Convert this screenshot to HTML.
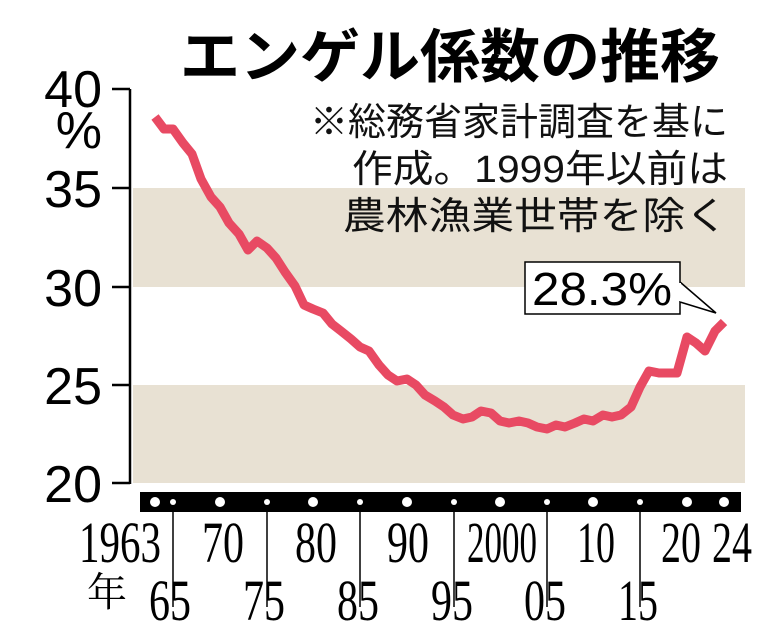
<!DOCTYPE html>
<html><head><meta charset="utf-8"><style>
html,body{margin:0;padding:0;background:#fff;}
svg{display:block;}
.jp{font-family:"Liberation Sans","Noto Sans CJK JP",sans-serif;}
.sf{font-family:"Liberation Serif","Noto Serif CJK SC",serif;}
</style></head><body>
<svg width="769" height="630" viewBox="0 0 769 630" xmlns="http://www.w3.org/2000/svg">
<rect x="133" y="188" width="612" height="99" fill="#e8e1d3"/>
<rect x="133" y="385" width="612" height="98" fill="#e8e1d3"/>
<g stroke="#000" stroke-width="2.5" fill="none">
<line x1="130" y1="89" x2="130" y2="484"/>
<line x1="112" y1="89" x2="130" y2="89"/>
<line x1="112" y1="188" x2="130" y2="188"/>
<line x1="112" y1="287" x2="130" y2="287"/>
<line x1="112" y1="385" x2="130" y2="385"/>
<line x1="112" y1="483" x2="130" y2="483"/>
</g>
<g class="jp" font-size="52" fill="#000" text-anchor="end">
<text x="102" y="107">40</text>
<text x="102" y="148">%</text>
<text x="102" y="207">35</text>
<text x="102" y="306">30</text>
<text x="102" y="404">25</text>
<text x="102" y="502">20</text>
</g>
<text class="jp" x="180" y="77" font-size="58" font-weight="bold" textLength="540" lengthAdjust="spacingAndGlyphs">エンゲル係数の推移</text>
<g class="jp" font-size="38" fill="#111">
<text x="310" y="135" textLength="418" lengthAdjust="spacingAndGlyphs">※総務省家計調査を基に</text>
<text x="352" y="182" textLength="376" lengthAdjust="spacingAndGlyphs">作成。1999年以前は</text>
<text x="343" y="229" textLength="385" lengthAdjust="spacingAndGlyphs">農林漁業世帯を除く</text>
</g>
<polyline fill="none" stroke="#e84a63" stroke-width="9" stroke-linejoin="round" points="155,117 164,129 173,129 183,143 192,154 201,179 211,197 220,207 229,223 239,234 248,250 257,241 267,248 276,258 285,272 295,286 304,305 313,309 323,313 332,324 341,331 351,339 360,347 369,351 379,365 388,375 397,381 407,379 416,385 425,395 435,401 444,407 453,415 463,419 472,417 481,411 491,413 500,421 509,423 519,421 528,423 537,427 547,429 556,425 565,427 575,423 584,419 593,421 603,415 612,417 621,415 631,407 640,387 649,371 659,373 668,373 677,373 687,337 696,343 705,351 715,331 724,322"/>
<rect x="525" y="262" width="155" height="52" fill="#fff" stroke="#000" stroke-width="1.5"/>
<polyline points="680,282 716,313 680,302" fill="#fff" stroke="#000" stroke-width="1.5"/>
<line x1="680" y1="283" x2="680" y2="301" stroke="#fff" stroke-width="2"/>
<text class="jp" x="602" y="305" font-size="46" text-anchor="middle" textLength="140" lengthAdjust="spacingAndGlyphs">28.3%</text>
<rect x="140" y="492" width="601" height="20" fill="#000"/>
<g fill="#fff">
<circle cx="155" cy="502" r="5"/><circle cx="173" cy="502" r="3"/><circle cx="220" cy="502" r="5"/><circle cx="267" cy="502" r="3"/><circle cx="313" cy="502" r="5"/><circle cx="360" cy="502" r="3"/><circle cx="407" cy="502" r="5"/><circle cx="454" cy="502" r="3"/><circle cx="500" cy="502" r="5"/><circle cx="547" cy="502" r="3"/><circle cx="593" cy="502" r="5"/><circle cx="640" cy="502" r="3"/><circle cx="687" cy="502" r="5"/><circle cx="724" cy="502" r="5"/>
</g>
<g stroke="#000" stroke-width="1.5">
<line x1="173" y1="512" x2="173" y2="607"/><line x1="267" y1="512" x2="267" y2="607"/><line x1="360" y1="512" x2="360" y2="607"/><line x1="454" y1="512" x2="454" y2="607"/><line x1="547" y1="512" x2="547" y2="607"/><line x1="640" y1="512" x2="640" y2="607"/>
</g>
<g class="sf" font-size="58" fill="#000" text-anchor="middle" lengthAdjust="spacingAndGlyphs">
<text x="120" y="562" textLength="82" lengthAdjust="spacingAndGlyphs">1963</text>
<text x="223" y="562" textLength="42" lengthAdjust="spacingAndGlyphs">70</text>
<text x="316" y="562" textLength="42" lengthAdjust="spacingAndGlyphs">80</text>
<text x="408" y="562" textLength="42" lengthAdjust="spacingAndGlyphs">90</text>
<text x="502" y="562" textLength="70" lengthAdjust="spacingAndGlyphs">2000</text>
<text x="596" y="562" textLength="38" lengthAdjust="spacingAndGlyphs">10</text>
<text x="681" y="562" textLength="40" lengthAdjust="spacingAndGlyphs">20</text>
<text x="732" y="562" textLength="40" lengthAdjust="spacingAndGlyphs">24</text>
<text x="170" y="620" textLength="42" lengthAdjust="spacingAndGlyphs">65</text>
<text x="264" y="620" textLength="42" lengthAdjust="spacingAndGlyphs">75</text>
<text x="358" y="620" textLength="42" lengthAdjust="spacingAndGlyphs">85</text>
<text x="452" y="620" textLength="42" lengthAdjust="spacingAndGlyphs">95</text>
<text x="545" y="620" textLength="42" lengthAdjust="spacingAndGlyphs">05</text>
<text x="638" y="620" textLength="40" lengthAdjust="spacingAndGlyphs">15</text>
</g>
<text class="sf" x="107" y="606" font-size="40" text-anchor="middle">年</text>
</svg>
</body></html>
